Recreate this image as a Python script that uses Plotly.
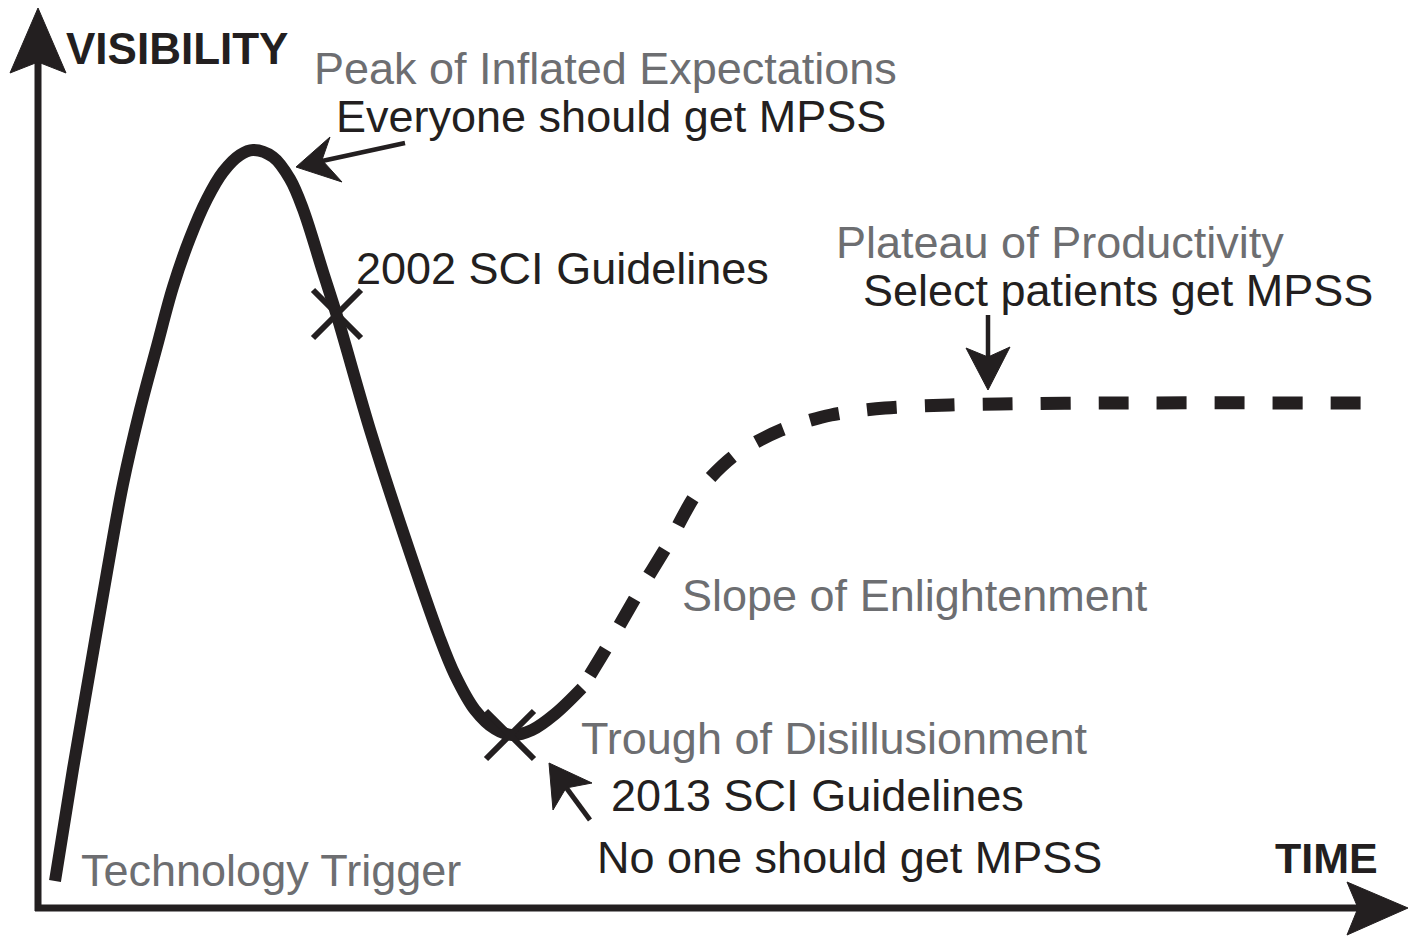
import plotly.graph_objects as go

# ---- data (time, visibility) ----
hype_time = [17, 35, 52, 69, 85, 102, 119, 135, 152, 169, 185, 202, 215, 235, 252, 265,
             285, 299, 333, 366, 401, 417, 437, 457, 474, 494, 517, 544]
hype_vis = [27, 139, 238, 336, 424, 498, 562, 621, 670, 709, 736, 753, 758, 751, 729, 699,
            636, 592, 475, 373, 272, 233, 198, 179, 173, 178, 194, 220]

recovery_time = [552, 569, 599, 630, 659, 697, 743, 793, 847, 912, 962, 1062, 1345]
recovery_vis = [233, 261, 313, 364, 415, 453, 478, 493, 500, 503, 504, 505, 505]

guideline_time = [299, 472]
guideline_vis = [594, 173]

INK = "#231f20"
GREY = "#6d6e71"
FONT = "Liberation Sans, Arial, Helvetica, sans-serif"

# pixel -> axis-unit helper for decorations
OX, OY = 38, 908
def P(px, py):
    return px - OX, OY - py

fig = go.Figure()

fig.add_trace(go.Scatter(x=hype_time, y=hype_vis, mode="lines",
                         line=dict(color=INK, width=12, shape="spline", smoothing=1.0),
                         hoverinfo="skip", showlegend=False))
fig.add_trace(go.Scatter(x=recovery_time, y=recovery_vis, mode="lines",
                         line=dict(color=INK, width=13, shape="spline", smoothing=0.8,
                                   dash="30px,28px"),
                         hoverinfo="skip", showlegend=False))
fig.add_trace(go.Scatter(x=guideline_time, y=guideline_vis, mode="markers",
                         marker=dict(symbol="x-thin", size=48, color=INK,
                                     line=dict(color=INK, width=6)),
                         hoverinfo="skip", showlegend=False))

shapes = []
def line(p1, p2, w):
    x0, y0 = P(*p1); x1, y1 = P(*p2)
    shapes.append(dict(type="line", x0=x0, y0=y0, x1=x1, y1=y1, xref="x", yref="y",
                       line=dict(color=INK, width=w)))
def head(tip, w1, notch, w2):
    pts = [P(*tip), P(*w1), P(*notch), P(*w2)]
    path = "M " + " L ".join(f"{a},{b}" for a, b in pts) + " Z"
    shapes.append(dict(type="path", path=path, xref="x", yref="y",
                       fillcolor=INK, line=dict(color=INK, width=1)))

# axes
line((38, 911), (38, 55), 7)
head((38, 8), (10, 73), (38, 62), (66, 73))
line((35, 908), (1360, 908), 7)
head((1408, 908), (1347, 882), (1358, 908), (1347, 935))
# callout arrows
line((405, 143), (322, 161), 4.5)
head((296, 167), (330, 137), (322, 160), (342, 182))
line((988, 315), (988, 358), 4.5)
head((988, 390), (966, 348), (988, 357), (1010, 347))
line((590, 820), (565, 786), 5)
head((549, 763), (553, 810), (566, 788), (592, 783))

annotations = []
def txt(s, px, py, color, size=45, bold=False):
    x, y = P(px, py)
    annotations.append(dict(x=x, y=y, xref="x", yref="y", text=f"<b>{s}</b>" if bold else s,
                            showarrow=False, xanchor="left", yanchor="middle",
                            font=dict(family=FONT, size=size, color=color)))

txt("VISIBILITY", 64, 48, INK, 44, True)
txt("TIME", 1273, 858, INK, 43, True)
txt("Peak of Inflated Expectations", 312, 68, GREY)
txt("Everyone should get MPSS", 334, 116, INK)
txt("2002 SCI Guidelines", 354, 268, INK)
txt("Plateau of Productivity", 834, 242, GREY)
txt("Select patients get MPSS", 861, 290, INK)
txt("Slope of Enlightenment", 680, 595, GREY)
txt("Trough of Disillusionment", 579, 738, GREY)
txt("2013 SCI Guidelines", 609, 795, INK)
txt("No one should get MPSS", 595, 857, INK)
txt("Technology Trigger", 79, 870, GREY)

x0, y0 = P(0, 0)
x1, y1 = P(1416, 937)
fig.update_layout(
    width=1416, height=937,
    margin=dict(l=0, r=0, t=0, b=0),
    paper_bgcolor="white", plot_bgcolor="white",
    xaxis=dict(range=[x0, x1], visible=False, fixedrange=True),
    yaxis=dict(range=[y1, y0], visible=False, fixedrange=True),
    shapes=shapes, annotations=annotations, showlegend=False,
)

fig.write_html("out.html", config={"displayModeBar": False},
               post_script="document.body.style.margin='0';document.body.style.overflow='hidden';")
